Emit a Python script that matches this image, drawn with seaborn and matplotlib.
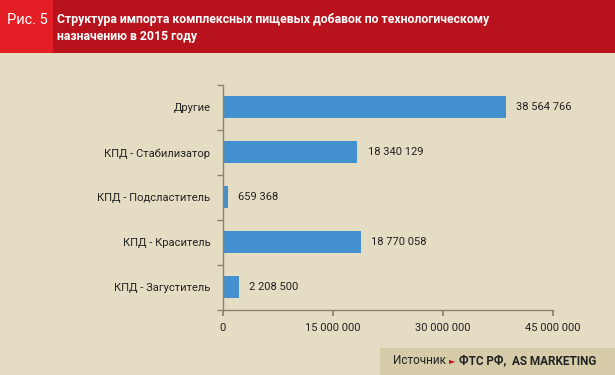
import seaborn as sns
import matplotlib.pyplot as plt
import pandas as pd
from matplotlib.patches import Rectangle
from matplotlib.ticker import FuncFormatter, FixedLocator

categories = ['Другие', 'КПД - Стабилизатор', 'КПД - Подсластитель', 'КПД - Краситель', 'КПД - Загуститель']
values = [38564766, 18340129, 659368, 18770058, 2208500]
xticks = [0, 15000000, 30000000, 45000000]

BG = '#e4dcc3'
BAR = '#4590cf'
FONT = ['Liberation Sans Narrow', 'Roboto', 'DejaVu Sans']


def fmt(v, pos=None):
    return f'{int(v):,}'.replace(',', ' ')


sns.set_theme(style='white')
plt.rcParams['font.family'] = FONT

df = pd.DataFrame({'cat': categories, 'val': values})

fig = plt.figure(figsize=(6.15, 3.75), dpi=100)
fig.patch.set_facecolor(BG)

# header band
fig.patches.append(Rectangle((0, 1 - 53 / 375), 1, 53 / 375, transform=fig.transFigure,
                             facecolor='#b8131c', edgecolor='none', zorder=0))
fig.patches.append(Rectangle((0, 1 - 53 / 375), 53 / 615, 53 / 375, transform=fig.transFigure,
                             facecolor='#e31e24', edgecolor='none', zorder=1))
fig.text(27 / 615, 1 - 20 / 375, 'Рис. 5', color='white', fontsize=10.5, ha='center', va='center')
fig.text(57 / 615, 1 - 28 / 375,
         'Структура импорта комплексных пищевых добавок по технологическому\nназначению в 2015 году',
         color='white', fontsize=8.8, fontweight='bold', ha='left', va='center', linespacing=1.35)

# footer band
fig.patches.append(Rectangle((380 / 615, 0), 235 / 615, 27 / 375, transform=fig.transFigure,
                             facecolor='#d6cca9', edgecolor='none', zorder=0))
fig.text(446 / 615, 14 / 375, 'Источник', color='#222222', fontsize=8.5, ha='right', va='center')
fig.text(449 / 615, 14 / 375, '►', color='#c0141c', fontsize=6, ha='left', va='center',
         family=['DejaVu Sans'])
fig.text(459 / 615, 14 / 375, 'ФТС РФ,  AS MARKETING', color='#222222', fontsize=8.5,
         fontweight='bold', ha='left', va='center')

ax = fig.add_axes([223 / 615, 1 - 309.5 / 375, 330 / 615, 224.5 / 375])
ax.set_facecolor(BG)
sns.barplot(data=df, x='val', y='cat', color=BAR, width=0.49, saturation=1, linewidth=0, ax=ax)

ax.set_xlim(0, 45000000)
ax.set_ylim(4.5, -0.5)
ax.set_xlabel('')
ax.set_ylabel('')
ax.xaxis.set_major_locator(FixedLocator(xticks))
ax.xaxis.set_major_formatter(FuncFormatter(fmt))
ax.yaxis.set_minor_locator(FixedLocator([-0.5, 0.5, 1.5, 2.5, 3.5, 4.5]))

for s in ['top', 'right']:
    ax.spines[s].set_visible(False)
for s in ['left', 'bottom']:
    ax.spines[s].set_color('#8a8373')
    ax.spines[s].set_linewidth(1)

ax.tick_params(axis='y', which='major', length=0, pad=9, labelsize=8, colors='#222222')
ax.tick_params(axis='y', which='minor', length=4, color='#8a8373', direction='out', left=True)
ax.tick_params(axis='x', which='major', length=4, color='#8a8373', direction='out', bottom=True,
               labelsize=8, colors='#222222', pad=6)

for i, v in enumerate(values):
    ax.text(v + 1400000, i, fmt(v), va='center', ha='left', fontsize=8, color='#222222')

fig.savefig('out.png', dpi=100, facecolor=BG)
